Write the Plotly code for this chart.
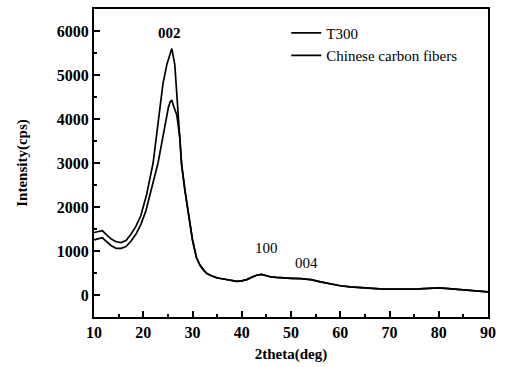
import plotly.graph_objects as go

# shared tail (both curves coincide above ~28 deg)
tail_x = [28.5, 29.2, 30.0, 30.8, 31.5, 32.3, 33, 34, 35, 36, 37, 38, 39, 40, 41, 42, 43, 44,
          45, 46, 47, 48, 50, 52, 54, 56, 58, 60, 62, 64, 66, 68, 70, 72, 74, 76, 78, 80,
          82, 84, 86, 88, 90]
tail_y = [2350, 1850, 1250, 850, 680, 560, 480, 430, 390, 370, 350, 330, 310, 320, 350, 400, 450, 470,
          440, 410, 400, 390, 380, 370, 350, 300, 250, 210, 185, 165, 150, 140, 135, 130, 135, 140, 155, 160,
          145, 125, 110, 90, 70]

t300_x = [10, 11, 11.7, 12.5, 13.5, 14.5, 15.5, 16.5, 17.5, 18.5, 19.5, 20.7, 21.5, 22.0, 23.4,
          24.0, 24.8, 25.3, 25.8, 26.4, 26.9, 27.4, 27.8]
t300_y = [1420, 1440, 1460, 1370, 1270, 1210, 1190, 1240, 1380, 1560, 1800, 2290, 2700, 3000, 4260,
          4800, 5240, 5450, 5600, 5240, 4500, 3600, 2950]

ccf_x = [10, 11, 11.7, 12.5, 13.5, 14.5, 15.5, 16.5, 17.5, 18.5, 19.5, 20.5, 21.4, 22.2, 23.0,
         24.0, 25.1, 25.5, 25.8, 26.3, 26.8, 27.4, 27.8]
ccf_y = [1250, 1280, 1300, 1220, 1120, 1060, 1060, 1100, 1220, 1380, 1600, 1900, 2290, 2700, 3000,
         3600, 4260, 4400, 4420, 4250, 4100, 3600, 2950]

series_names = ["T300", "Chinese carbon fibers"]
peak_labels = ["002", "100", "004"]
peak_x = [25.4, 45.1, 53.2]
peak_y = [5950, 1075, 735]

x_ticks = [10, 20, 30, 40, 50, 60, 70, 80, 90]
y_ticks = [0, 1000, 2000, 3000, 4000, 5000, 6000]

SERIF = "Liberation Serif, Times New Roman, serif"

fig = go.Figure()
fig.add_trace(go.Scatter(x=t300_x + tail_x, y=t300_y + tail_y, mode="lines",
                         name=series_names[0], line=dict(color="black", width=1.7)))
fig.add_trace(go.Scatter(x=ccf_x + tail_x, y=ccf_y + tail_y, mode="lines",
                         name=series_names[1], line=dict(color="black", width=1.7)))

for i, lab in enumerate(peak_labels):
    fig.add_annotation(x=peak_x[i], y=peak_y[i], text=("<b>%s</b>" % lab) if i == 0 else lab,
                       showarrow=False, font=dict(family=SERIF, size=15, color="black"))

fig.update_layout(
    width=507, height=367,
    margin=dict(l=94, r=19, t=7, b=50),
    paper_bgcolor="white", plot_bgcolor="white",
    showlegend=True,
    legend=dict(x=0.488, y=0.975, xanchor="left", yanchor="top",
                bgcolor="rgba(0,0,0,0)", font=dict(family=SERIF, size=15, color="black"),
                itemwidth=30, tracegroupgap=0),
    font=dict(family=SERIF, color="black"),
)
fig.update_xaxes(range=[10, 90], tickvals=x_ticks, ticktext=["<b>%d</b>" % v for v in x_ticks],
                 ticks="inside", ticklen=6, tickwidth=1.5, tickcolor="black",
                 minor=dict(dtick=5, tick0=10, ticks="inside", ticklen=3, tickwidth=1.5, tickcolor="black"),
                 showline=True, linecolor="black", linewidth=2, mirror=True,
                 showgrid=False, zeroline=False,
                 tickfont=dict(family=SERIF, size=16, color="black"),
                 title=dict(text="<b>2theta(deg)</b>", font=dict(family=SERIF, size=15, color="black"), standoff=8))
fig.update_yaxes(range=[-500, 6500], tickvals=y_ticks, ticktext=["<b>%d</b>" % v for v in y_ticks],
                 ticks="inside", ticklen=6, tickwidth=1.5, tickcolor="black",
                 minor=dict(dtick=500, tick0=0, ticks="inside", ticklen=3, tickwidth=1.5, tickcolor="black"),
                 showline=True, linecolor="black", linewidth=2, mirror=True,
                 showgrid=False, zeroline=False,
                 tickfont=dict(family=SERIF, size=16, color="black"),
                 title=dict(text="<b>Intensity(cps)</b>", font=dict(family=SERIF, size=15, color="black"), standoff=26))

fig.write_html("out.html", config={"displayModeBar": False},
               post_script="document.body.style.margin='0';document.body.style.overflow='hidden';")
